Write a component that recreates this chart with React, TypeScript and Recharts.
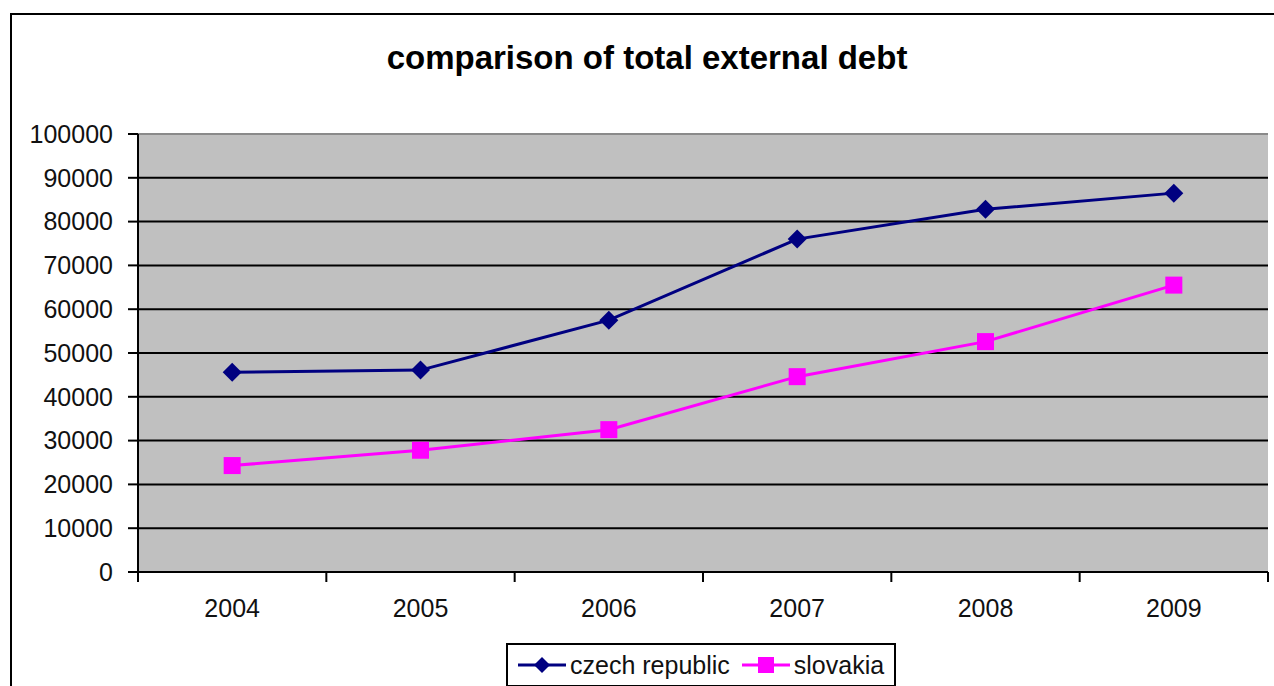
import React from 'react';
import { LineChart, Line, XAxis, YAxis, CartesianGrid, ReferenceLine, Legend } from 'recharts';

const years = ['2004', '2005', '2006', '2007', '2008', '2009'];
const czechRepublic = [45600, 46100, 57500, 76000, 82800, 86500];
const slovakia = [24300, 27800, 32500, 44600, 52600, 65500];
const yTicks = [0, 10000, 20000, 30000, 40000, 50000, 60000, 70000, 80000, 90000, 100000];

// each year sits in the middle of its own slot on a 0..n axis;
// whole numbers are the slot edges (tick marks), halves carry the year label
const slotCenters = years.map((_, i) => i + 0.5);
const xTicks = years.flatMap((_, i) => [i, i + 0.5]).concat(years.length);

const data = years.map((year, i) => ({
  year,
  pos: slotCenters[i],
  czech: czechRepublic[i],
  slovakia: slovakia[i],
}));

const FONT = '"Liberation Sans", Arial, sans-serif';
const NAVY = '#000080';
const MAGENTA = '#FF00FF';

const diamondPath = (cx: number, cy: number, r: number) =>
  `M${cx},${cy - r}L${cx + r},${cy}L${cx},${cy + r}L${cx - r},${cy}Z`;

const DiamondDot = (props: any) => {
  const { cx, cy, index } = props;
  if (cx == null || cy == null) return <g key={`d-${index}`} />;
  return <path key={`d-${index}`} d={diamondPath(cx, cy, 9.5)} fill={NAVY} />;
};

const SquareDot = (props: any) => {
  const { cx, cy, index } = props;
  if (cx == null || cy == null) return <g key={`s-${index}`} />;
  return <rect key={`s-${index}`} x={cx - 8.5} y={cy - 8.5} width={17} height={17} fill={MAGENTA} />;
};

const YearTick = (props: any) => {
  const { x, y, payload } = props;
  const v = payload.value as number;
  if (Number.isInteger(v)) {
    return <line x1={x} y1={y} x2={x} y2={y + 10} stroke="#000" strokeWidth={2} />;
  }
  return (
    <text x={x} y={y + 45} textAnchor="middle" fill="#111" fontSize={25} fontFamily={FONT}>
      {years[Math.floor(v)]}
    </text>
  );
};

const LegendBox = (props: any) => {
  const items = props.payload || [];
  return (
    <div
      style={{
        display: 'flex',
        alignItems: 'center',
        height: '100%',
        boxSizing: 'border-box',
        border: '2px solid #000',
        background: '#fff',
        paddingLeft: 9,
        fontFamily: FONT,
        fontSize: 25,
        color: '#111',
        whiteSpace: 'nowrap',
      }}
    >
      {items.map((item: any) => (
        <div key={item.value} style={{ display: 'flex', alignItems: 'center', flexShrink: 0, marginRight: 11 }}>
          <svg width={50} height={22}>
            <line x1={1} y1={11} x2={49} y2={11} stroke={item.color} strokeWidth={3} />
            {item.dataKey === 'czech' ? (
              <path d={diamondPath(25, 11, 8)} fill={item.color} />
            ) : (
              <rect x={17} y={3} width={16} height={16} fill={item.color} />
            )}
          </svg>
          <span style={{ marginLeft: 3 }}>{item.value}</span>
        </div>
      ))}
    </div>
  );
};

export default function App() {
  return (
    <div style={{ position: 'fixed', left: 0, top: 0, width: 1274, height: 686, background: '#fff', overflow: 'hidden' }}>
      <div style={{ position: 'absolute', left: 10, top: 13, width: 1400, height: 800, border: '2px solid #000' }} />
      <div
        style={{
          position: 'absolute',
          left: 0,
          top: 39,
          width: 1274,
          textAlign: 'center',
          fontFamily: FONT,
          fontWeight: 'bold',
          fontSize: 33,
          color: '#000',
          paddingLeft: 20,
          boxSizing: 'border-box',
        }}
      >
        comparison of total external debt
      </div>
      <div style={{ position: 'absolute', left: 0, top: 0 }}>
        <LineChart width={1274} height={686} data={data} margin={{ top: 134, right: 6, bottom: 74, left: 0 }}>
          <CartesianGrid horizontal vertical={false} fill="#C0C0C0" stroke="#000" strokeWidth={2} />
          <ReferenceLine y={100000} stroke="#8a8a8a" strokeWidth={2} />
          <XAxis
            type="number"
            dataKey="pos"
            domain={[0, years.length]}
            ticks={xTicks}
            tick={<YearTick />}
            tickLine={false}
            tickSize={0}
            tickMargin={0}
            axisLine={{ stroke: '#000', strokeWidth: 2 }}
            height={40}
            interval={0}
          />
          <YAxis
            type="number"
            domain={[0, 100000]}
            ticks={yTicks}
            width={138}
            tickSize={10}
            tickMargin={15}
            tickLine={{ stroke: '#000', strokeWidth: 2 }}
            axisLine={{ stroke: '#000', strokeWidth: 2 }}
            tick={{ fill: '#111', fontSize: 25, fontFamily: FONT }}
            interval={0}
          />
          <YAxis
            yAxisId="frame"
            orientation="right"
            type="number"
            domain={[0, 100000]}
            width={0}
            tick={false}
            tickLine={false}
            axisLine={{ stroke: '#8a8a8a', strokeWidth: 2 }}
          />
          <Legend
            layout="horizontal"
            verticalAlign="middle"
            align="center"
            content={<LegendBox />}
            wrapperStyle={{ left: 506, top: 643, width: 390, height: 44 }}
          />
          <Line
            type="linear"
            dataKey="czech"
            name="czech republic"
            stroke={NAVY}
            strokeWidth={3}
            dot={DiamondDot}
            activeDot={false}
            isAnimationActive={false}
          />
          <Line
            type="linear"
            dataKey="slovakia"
            name="slovakia"
            stroke={MAGENTA}
            strokeWidth={3}
            dot={SquareDot}
            activeDot={false}
            isAnimationActive={false}
          />
        </LineChart>
      </div>
    </div>
  );
}
